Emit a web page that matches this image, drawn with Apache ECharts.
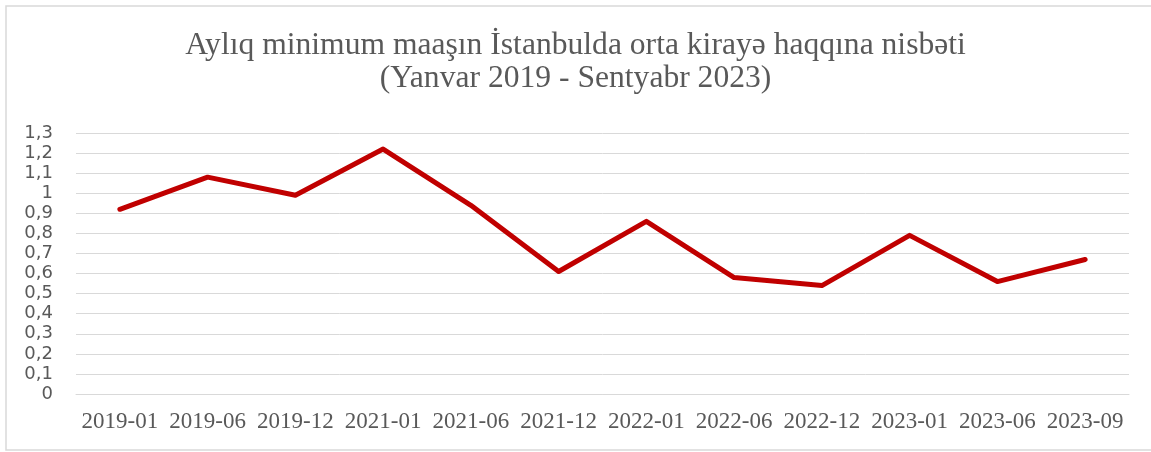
<!DOCTYPE html>
<html>
<head>
<meta charset="utf-8">
<script src="https://cdn.jsdelivr.net/npm/echarts@6/dist/echarts.min.js"></script>
<style>
html,body{margin:0;padding:0;background:#fff;}
#chart{width:1151px;height:452px;}
</style>
</head>
<body>
<div id="chart"></div>
<script>
const categories = ['2019-01','2019-06','2019-12','2021-01','2021-06','2021-12','2022-01','2022-06','2022-12','2023-01','2023-06','2023-09'];
const ratioValues = [0.92, 1.08, 0.99, 1.22, 0.94, 0.61, 0.86, 0.58, 0.54, 0.79, 0.56, 0.67];
const titleLines = ['Aylıq minimum maaşın İstanbulda orta kirayə haqqına nisbəti', '(Yanvar 2019 - Sentyabr 2023)'];

const titleStyle = {fontFamily:'Liberation Serif', fontSize:31.6, fontWeight:'normal', color:'#595959', lineHeight:32};
const chart = echarts.init(document.getElementById('chart'), null, {renderer:'canvas'});
chart.setOption({
  backgroundColor:'#ffffff',
  animation:false,
  title:[
    {text:titleLines[0], left:'center', top:30, padding:0, textStyle:titleStyle},
    {text:titleLines[1], left:'center', top:63, padding:0, textStyle:titleStyle}
  ],
  graphic:[{
    type:'rect', silent:true,
    shape:{x:6, y:6, width:1150, height:444},
    style:{fill:'none', stroke:'#d9d9d9', lineWidth:1.5}
  }],
  grid:{left:76, right:22, top:133, bottom:58, containLabel:false},
  xAxis:{
    type:'category',
    data:categories,
    boundaryGap:true,
    axisLine:{show:true, lineStyle:{color:'#d9d9d9', width:1}},
    axisTick:{show:false},
    axisLabel:{fontFamily:'Liberation Serif', fontSize:23, color:'#595959', margin:16, interval:0}
  },
  yAxis:{
    type:'value',
    min:0, max:1.3, interval:0.1,
    axisLine:{show:false},
    axisTick:{show:false},
    splitLine:{lineStyle:{color:'#d9d9d9', width:1}},
    axisLabel:{fontFamily:'DejaVu Sans', fontSize:18, color:'#595959', margin:23,
      formatter:function(v){return String(+v.toFixed(1)).replace('.', ',');}}
  },
  series:[{
    type:'line',
    data:ratioValues,
    symbol:'none',
    lineStyle:{color:'#c00000', width:5, cap:'round', join:'round'},
    itemStyle:{color:'#c00000'}
  }]
});
</script>
</body>
</html>
